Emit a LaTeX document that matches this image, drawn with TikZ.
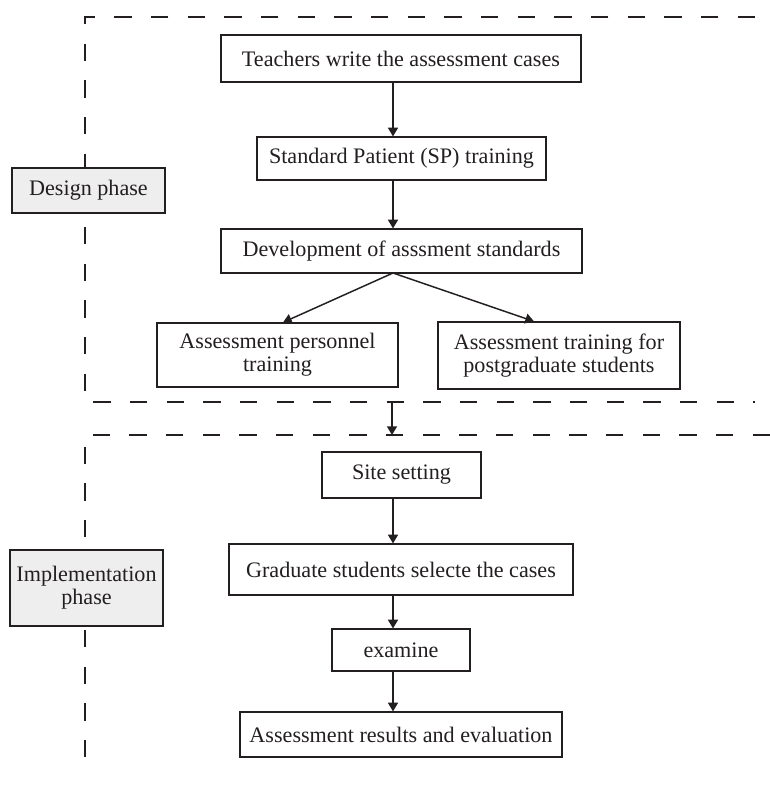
\documentclass[tikz,border=0pt]{standalone}
\usepackage{fontspec}
\setmainfont{Liberation Serif}
\usetikzlibrary{arrows.meta}
\definecolor{ink}{HTML}{231F20}
\definecolor{phasefill}{HTML}{EEEEEE}
\begin{document}
\begin{tikzpicture}[x=0.75pt,y=-0.75pt,
  every node/.style={font=\fontsize{16.6}{17.4}\selectfont, text=ink},
  box/.style={draw=ink, line width=0.9pt, fill=white, inner sep=0pt, align=center},
  phasebox/.style={box, fill=phasefill},
  arr/.style={draw=ink, line width=1.1pt, -{Triangle[width=7.5pt,length=6.5pt]}},
  phaseline/.style={draw=ink, line width=1.1pt, dash pattern=on 13pt off 14.5pt}
]
\useasboundingbox (0,0) rectangle (770,792);

% dashed phase frames
\draw[phaseline] (755,17) -- (85,17) -- (85,402) -- (755,402);
\draw[phaseline] (770,435) -- (85,435) -- (85,775);

% phase labels
\node[phasebox, minimum width=114.75pt, minimum height=33.75pt] (dp) at (88.5,190.5) {Design phase};
\node[phasebox, minimum width=114.75pt, minimum height=57pt] (ip) at (86.5,588) {Implementation\\phase};

% design phase boxes
\node[box, minimum width=270pt, minimum height=35.25pt] (t1) at (401,58.5) {Teachers write the assessment cases};
\node[box, minimum width=216.75pt, minimum height=32.25pt] (t2) at (401.5,158.5) {Standard Patient (SP) training};
\node[box, minimum width=270.75pt, minimum height=33pt] (t3) at (401.5,251) {Development of asssment standards};
\node[box, minimum width=180.75pt, minimum height=48pt] (t4) at (277.5,355) {Assessment personnel\\training};
\node[box, minimum width=181.5pt, minimum height=50.25pt] (t5) at (559,355.5) {Assessment training for\\postgraduate students};

% implementation phase boxes
\node[box, minimum width=119.25pt, minimum height=34.5pt] (s1) at (401.5,475) {Site setting};
\node[box, minimum width=258pt, minimum height=38.25pt] (s2) at (401,569.5) {Graduate students selecte the cases};
\node[box, minimum width=103.5pt, minimum height=31.5pt] (s3) at (401,650) {examine};
\node[box, minimum width=241.5pt, minimum height=33.75pt] (s4) at (401,734.5) {Assessment results and evaluation};

% helper coordinates
\coordinate (ax) at (393,0);
\coordinate (fork) at (393,273);
\coordinate (dpend) at (392,402);
\coordinate (ipstart) at (392,435);

% connectors
\draw[arr] (t1.south -| ax) -- (t2.north -| ax);
\draw[arr] (t2.south -| ax) -- (t3.north -| ax);
\draw[arr] (fork) -- (t4.north -| 283,0);
\draw[arr] (fork) -- (t5.north -| 534,0);
\draw[arr] (dpend) -- (ipstart);
\draw[arr] (s1.south -| ax) -- (s2.north -| ax);
\draw[arr] (s2.south -| ax) -- (s3.north -| ax);
\draw[arr] (s3.south -| ax) -- (s4.north -| ax);
\end{tikzpicture}
\end{document}
